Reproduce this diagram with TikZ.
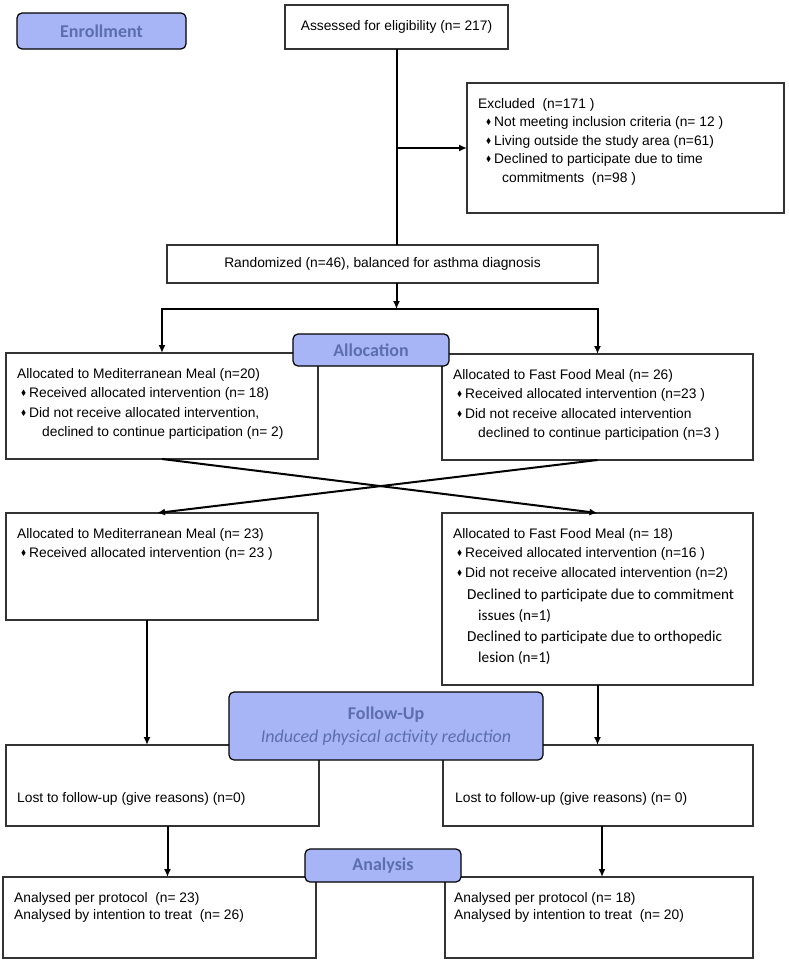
\documentclass[tikz,border=0pt]{standalone}
\usepackage{fontspec}
\setmainfont{Liberation Sans}
\newfontfamily\calfont{Carlito}
\usepackage{amssymb}
\usetikzlibrary{arrows.meta}
\definecolor{labfill}{HTML}{A7B5F7}
\definecolor{labtext}{HTML}{5E6DAE}
\definecolor{boxline}{HTML}{333333}
\newcommand{\bul}{\hspace*{4pt}\makebox[8pt][l]{\raisebox{2pt}{\scalebox{0.55}{$\blacklozenge$}}}}

\begin{document}
\begin{tikzpicture}[x=1pt,y=-1pt,
  box/.style={draw=boxline,line width=1.2pt,rectangle,inner sep=0pt,outer sep=0pt,anchor=north west},
  txt/.style={anchor=north west,inner sep=0pt,align=left,font=\fontsize{13.8}{19.5}\selectfont},
  caltxt/.style={anchor=north west,inner sep=0pt,align=left,font=\calfont\fontsize{15.2}{21}\selectfont},
  lab/.style={draw=black,line width=1.2pt,fill=labfill,rounded corners=5pt,text=labtext,
    inner sep=0pt,outer sep=0pt,font=\calfont\bfseries\fontsize{18}{20}\selectfont},
  conn/.style={line width=2pt,-{Latex[length=8pt,width=7pt]}}]
  \path[use as bounding box,fill=white] (0,0) rectangle (789,961);

  % enrollment
  \node[box,minimum width=223,minimum height=44,font=\fontsize{13.8}{16}\selectfont] (assess) at (285,5) {Assessed for eligibility (n= 217)};
  \node[box,minimum width=317,minimum height=130] (excl) at (467,83) {};
  \node[txt,font=\fontsize{13.8}{18.5}\selectfont] (excltxt) at ([shift={(11,15)}]excl.north west)
    {Excluded\ \ (n=171 )\\
     \hspace*{4pt}\bul Not meeting inclusion criteria (n= 12 )\\
     \hspace*{4pt}\bul Living outside the study area (n=61)\\
     \hspace*{4pt}\bul Declined to participate due to time\\
     \hspace*{24pt}commitments\ \ (n=98 )};
  \node[box,minimum width=431,minimum height=38,font=\fontsize{13.8}{16}\selectfont] (rand) at (167,245) {Randomized (n=46), balanced for asthma diagnosis};

  % first period
  \node[box,minimum width=312,minimum height=106] (med1) at (6,353) {};
  \node[txt] (med1txt) at ([shift={(11,15)}]med1.north west)
    {Allocated to Mediterranean Meal (n=20)\\
     \bul Received allocated intervention (n= 18)\\
     \bul Did not receive allocated intervention,\\
     \hspace*{25pt}declined to continue participation (n= 2)};
  \node[box,minimum width=311,minimum height=106] (ff1) at (442,354) {};
  \node[txt] (ff1txt) at ([shift={(11,15)}]ff1.north west)
    {Allocated to Fast Food Meal (n= 26)\\
     \bul Received allocated intervention (n=23 )\\
     \bul Did not receive allocated intervention\\
     \hspace*{25pt}declined to continue participation (n=3 )};

  % second period
  \node[box,minimum width=312,minimum height=107] (med2) at (6,513) {};
  \node[txt] (med2txt) at ([shift={(11,15)}]med2.north west)
    {Allocated to Mediterranean Meal (n= 23)\\
     \bul Received allocated intervention (n= 23 )};
  \node[box,minimum width=311,minimum height=172] (ff2) at (442,513) {};
  \node[txt] (ff2txt) at ([shift={(11,15)}]ff2.north west)
    {Allocated to Fast Food Meal (n= 18)\\
     \bul Received allocated intervention (n=16 )\\
     \bul Did not receive allocated intervention (n=2)};
  \node[caltxt] (ff2cal) at ([shift={(25,76)}]ff2.north west)
    {Declined to participate due to commitment\\
     \hspace*{11pt}issues (n=1)\\
     Declined to participate due to orthopedic\\
     \hspace*{11pt}lesion (n=1)};

  % follow-up
  \node[box,minimum width=313,minimum height=81] (lost1) at (6,745) {};
  \node[txt] (lost1txt) at ([shift={(11,47)}]lost1.north west) {Lost to follow-up (give reasons) (n=0)};
  \node[box,minimum width=310,minimum height=81] (lost2) at (443,745) {};
  \node[txt] (lost2txt) at ([shift={(12,47)}]lost2.north west) {Lost to follow-up (give reasons) (n= 0)};

  % analysis
  \node[box,minimum width=313,minimum height=81] (ana1) at (3,877) {};
  \node[txt,font=\fontsize{13.8}{17.5}\selectfont] (ana1txt) at ([shift={(11,15)}]ana1.north west)
    {Analysed per protocol\ \ (n= 23)\\
     Analysed by intention to treat\ \ (n= 26)};
  \node[box,minimum width=308,minimum height=81] (ana2) at (445,877) {};
  \node[txt,font=\fontsize{13.8}{17.5}\selectfont] (ana2txt) at ([shift={(9,15)}]ana2.north west)
    {Analysed per protocol (n= 18)\\
     Analysed by intention to treat\ \ (n= 20)};

  % connectors
  \draw[line width=2pt] (assess.south) -- (assess.south |- rand.north);
  \draw[conn] (assess.south |- excl.west) -- (excl.west);
  \coordinate (split) at (assess.south |- 0,309);
  \draw[conn] (assess.south |- rand.south) -- (split);
  \draw[conn] (split) -| (med1.north);
  \draw[conn] (split) -| (ff1.north);
  \coordinate (m2in) at ([xshift=-5pt]med2.north);
  \draw[conn] (med1.south) -- (ff2.north);
  \draw[conn] (ff1.south) -- (m2in);
  \coordinate (m2out) at ([xshift=-15pt]med2.south);
  \draw[conn] (m2out) -- (m2out |- lost1.north);
  \draw[conn] (ff2.south) -- (ff2.south |- lost2.north);
  \coordinate (l1out) at ([xshift=5pt]lost1.south);
  \draw[conn] (l1out) -- (l1out |- ana1.north);
  \coordinate (l2out) at ([xshift=4pt]lost2.south);
  \draw[conn] (l2out) -- (l2out |- ana2.north);

  % stage labels
  \node[lab,minimum width=169,minimum height=36] (enrol) at (101.5,31) {Enrollment};
  \node[lab,minimum width=156,minimum height=32] (alloc) at (371,350) {Allocation};
  \node[lab,minimum width=314,minimum height=68,align=center] (follow) at (386,726)
    {Follow-Up\\[3pt]{\mdseries\itshape Induced physical activity reduction}};
  \node[lab,minimum width=156,minimum height=33] (analys) at (383,865.5) {Analysis};
\end{tikzpicture}
\end{document}
